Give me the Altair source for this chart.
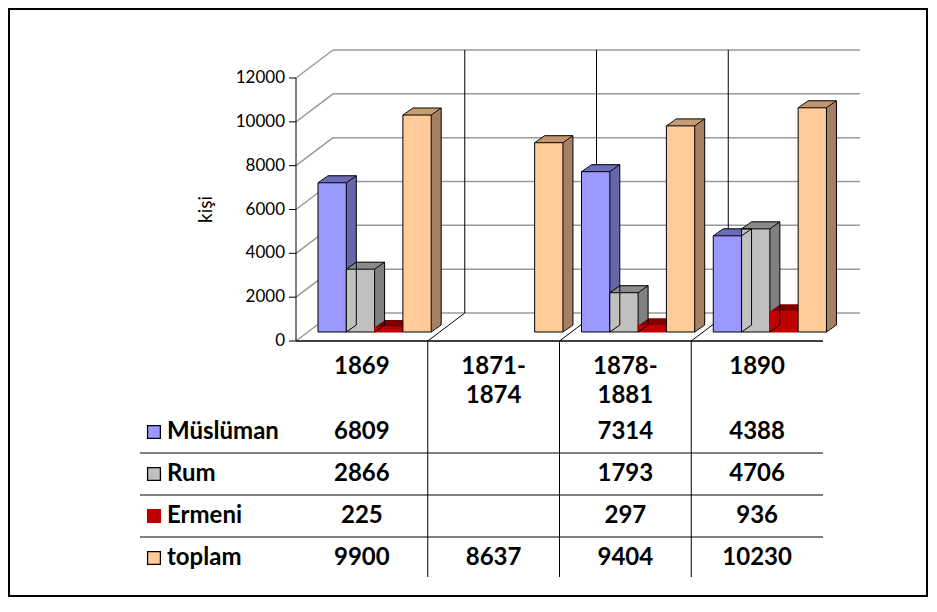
import altair as alt
import pandas as pd

# ---------------- data ----------------
categories = ["1869", "1871-1874", "1878-1881", "1890"]
series = ["Müslüman", "Rum", "Ermeni", "toplam"]
muslim = [6809, None, 7314, 4388]
rum = [2866, None, 1793, 4706]
ermeni = [225, None, 297, 936]
toplam = [9900, 8637, 9404, 10230]
y_ticks = [0, 2000, 4000, 6000, 8000, 10000, 12000]
y_title = "kişi"

# ---------------- styles ----------------
front_colors = ["#9999FF", "#C0C0C0", "#C00000", "#FFCC99"]
side_colors = ["#6666A8", "#808080", "#8A0000", "#A68064"]
top_colors = ["#6E6EBE", "#8E8E8E", "#7A0000", "#C79D72"]
outlined = [True, True, False, True]

FONT = "Lato"
W, H = 527, 263          # front plane of the plot
N = len(categories)
YMAX = y_ticks[-1]
DX, DY = 37, 28          # depth of the walls (px)
BX, BY = 10, 7           # depth of each bar (px)
LIFT = 9                 # bars stand a little back on the floor
GROUP0 = 0.167           # first bar start within a category
BARW = 0.2148            # bar width (in category units)
STEPS = 7

xscale = alt.Scale(domain=[0, N], nice=False, zero=False)
yscale = alt.Scale(domain=[0, YMAX], nice=False)

rows = []
for s_i, (s, vals) in enumerate(zip(series, [muslim, rum, ermeni, toplam])):
    for c_i, v in enumerate(vals):
        if v is None:
            continue
        x0 = c_i + GROUP0 + s_i * BARW
        rows.append(dict(series=s, cat=categories[c_i], value=v, zero=0,
                         x0=x0, x1=x0 + BARW, xc=c_i + 0.5,
                         front=front_colors[s_i], side=side_colors[s_i],
                         top=top_colors[s_i],
                         edge="#000000" if outlined[s_i] else front_colors[s_i],
                         outlined=outlined[s_i], label=f"{v}"))
bars = pd.DataFrame(rows)
bars_out = bars[bars["outlined"]].reset_index(drop=True)

ticks_df = pd.DataFrame({"v": y_ticks, "xa": 0, "xb": N, "lab": [str(t) for t in y_ticks]})
div_df = pd.DataFrame({"i": list(range(1, N)), "ya": 0, "yb": YMAX})
cat_df = pd.DataFrame({"xc": [i + 0.5 for i in range(N)],
                       "label": [c.replace("-", "-\n") for c in categories]})
floor_df = pd.DataFrame({"xa": [0], "xb": [N], "ya": [0], "yb": [YMAX]})
one = pd.DataFrame({"a": [0]})

X = lambda f: alt.X(f, scale=xscale, axis=None)
Y = lambda f: alt.Y(f, scale=yscale, axis=None)

layers = []

# outer frame
layers.append(
    alt.Chart(one).mark_rect(fillOpacity=0, stroke="#000000", strokeWidth=2).encode(
        x=alt.value(-287), x2=alt.value(W + 104),
        y=alt.value(-69), y2=alt.value(H + 255))
)

# back wall gridlines
layers.append(
    alt.Chart(ticks_df).mark_rule(color="#9A9A9A", strokeWidth=1.5,
                                  xOffset=DX, x2Offset=DX, yOffset=-DY, y2Offset=-DY).encode(
        x=X("xa:Q"), x2="xb:Q", y=Y("v:Q"), y2="v:Q")
)
# side wall diagonals
layers.append(
    alt.Chart(ticks_df).mark_rule(color="#9A9A9A", strokeWidth=1.5,
                                  x2Offset=DX, y2Offset=-DY).encode(
        x=X("xa:Q"), x2="xa:Q", y=Y("v:Q"), y2="v:Q")
)
# y axis: line, ticks, labels, title
layers += [
    alt.Chart(floor_df).mark_rule(color="#000000", strokeWidth=1).encode(
        x=X("xa:Q"), x2="xa:Q", y=Y("ya:Q"), y2="yb:Q"),
    alt.Chart(ticks_df).mark_rule(color="#000000", strokeWidth=1, xOffset=-7).encode(
        x=X("xa:Q"), x2="xa:Q", y=Y("v:Q"), y2="v:Q"),
    alt.Chart(ticks_df).mark_text(font=FONT, fontSize=17, color="#000000", align="right",
                                  baseline="middle", xOffset=-11).encode(
        x=X("xa:Q"), y=Y("v:Q"), text="lab:N"),
    alt.Chart(pd.DataFrame({"t": [y_title]})).mark_text(
        font=FONT, fontSize=19, color="#000000", angle=270, align="center",
        baseline="middle").encode(x=alt.value(-90), y=alt.value(H / 2), text="t:N"),
]
# category dividers: back wall, floor diagonal, table
layers.append(
    alt.Chart(div_df).mark_rule(color="#000000", strokeWidth=1,
                                xOffset=DX, x2Offset=DX, yOffset=-DY, y2Offset=-DY).encode(
        x=X("i:Q"), x2="i:Q", y=Y("ya:Q"), y2="yb:Q")
)
layers.append(
    alt.Chart(div_df).mark_rule(color="#000000", strokeWidth=1,
                                x2Offset=DX, y2Offset=-DY).encode(
        x=X("i:Q"), x2="i:Q", y=Y("ya:Q"), y2="ya:Q")
)
layers.append(
    alt.Chart(div_df).mark_rule(color="#000000", strokeWidth=1, y2Offset=236).encode(
        x=X("i:Q"), x2="i:Q", y=Y("ya:Q"), y2="ya:Q")
)
# front floor edge
layers.append(
    alt.Chart(floor_df).mark_rule(color="#000000", strokeWidth=1.5).encode(
        x=X("xa:Q"), x2="xb:Q", y=Y("ya:Q"), y2="ya:Q")
)

# ---------------- 3D bars ----------------
for k in range(STEPS, 0, -1):
    ox = BX * k / STEPS
    oy = -LIFT - BY * k / STEPS
    layers.append(
        alt.Chart(bars).mark_rect(xOffset=ox, x2Offset=ox, yOffset=oy, y2Offset=oy).encode(
            x=X("x0:Q"), x2="x1:Q", y=Y("value:Q"), y2="zero:Q",
            fill=alt.Fill("side:N", scale=None))
    )
    layers.append(
        alt.Chart(bars).mark_rect(xOffset=ox, x2Offset=ox, yOffset=oy, y2Offset=oy + 1.3).encode(
            x=X("x0:Q"), x2="x1:Q", y=Y("value:Q"), y2="value:Q",
            fill=alt.Fill("top:N", scale=None))
    )
# front faces
layers.append(
    alt.Chart(bars).mark_rect(yOffset=-LIFT, y2Offset=-LIFT, strokeWidth=1).encode(
        x=X("x0:Q"), x2="x1:Q", y=Y("value:Q"), y2="zero:Q",
        fill=alt.Fill("front:N", scale=None), stroke=alt.Stroke("edge:N", scale=None))
)
# box edges
layers += [
    alt.Chart(bars_out).mark_rule(color="#000000", strokeWidth=1,
                                  x2Offset=BX, yOffset=-LIFT, y2Offset=-LIFT - BY).encode(
        x=X("x0:Q"), x2="x0:Q", y=Y("value:Q"), y2="value:Q"),
    alt.Chart(bars_out).mark_rule(color="#000000", strokeWidth=1,
                                  x2Offset=BX, yOffset=-LIFT, y2Offset=-LIFT - BY).encode(
        x=X("x1:Q"), x2="x1:Q", y=Y("value:Q"), y2="value:Q"),
    alt.Chart(bars_out).mark_rule(color="#000000", strokeWidth=1,
                                  x2Offset=BX, yOffset=-LIFT, y2Offset=-LIFT - BY).encode(
        x=X("x1:Q"), x2="x1:Q", y=Y("zero:Q"), y2="zero:Q"),
    alt.Chart(bars_out).mark_rule(color="#000000", strokeWidth=1, xOffset=BX, x2Offset=BX,
                                  yOffset=-LIFT - BY, y2Offset=-LIFT - BY).encode(
        x=X("x0:Q"), x2="x1:Q", y=Y("value:Q"), y2="value:Q"),
    alt.Chart(bars_out).mark_rule(color="#000000", strokeWidth=1, xOffset=BX, x2Offset=BX,
                                  yOffset=-LIFT - BY, y2Offset=-LIFT - BY).encode(
        x=X("x1:Q"), x2="x1:Q", y=Y("value:Q"), y2="zero:Q"),
]

# ---------------- data table ----------------
TXT = dict(font=FONT, fontSize=24, fontWeight="bold", color="#000000")
ROW0, ROWSTEP = 354, 42
layers.append(
    alt.Chart(cat_df).mark_text(**TXT, align="center", baseline="alphabetic",
                                lineBreak="\n", lineHeight=29).encode(
        x=X("xc:Q"), y=alt.value(296), text="label:N")
)
for r, s in enumerate(series):
    yy = ROW0 + ROWSTEP * r
    sub = bars[bars["series"] == s].reset_index(drop=True)
    layers.append(
        alt.Chart(sub).mark_text(**TXT, align="center", baseline="middle").encode(
            x=X("xc:Q"), y=alt.value(yy), text="label:N")
    )
    lab = pd.DataFrame({"s": [s]})
    layers.append(
        alt.Chart(lab).mark_text(**TXT, align="left", baseline="middle").encode(
            x=alt.value(-129), y=alt.value(yy), text="s:N")
    )
    layers.append(
        alt.Chart(lab).mark_square(
            size=165, filled=True, opacity=1, color=front_colors[r],
            stroke="#000000" if outlined[r] else front_colors[r], strokeWidth=1.3).encode(
            x=alt.value(-142), y=alt.value(yy))
    )
    if r < len(series) - 1:
        layers.append(
            alt.Chart(one).mark_rule(color="#000000", strokeWidth=1).encode(
                x=alt.value(-156), x2=alt.value(W), y=alt.value(yy + ROWSTEP / 2))
        )

chart = alt.layer(*layers).properties(
    width=W, height=H,
    padding={"left": 288, "top": 70, "right": 105, "bottom": 257},
    autosize=alt.AutoSizeParams(type="none"),
    background="#FFFFFF",
).configure_view(stroke=None)

chart.save("out.html", embed_options={"renderer": "svg", "actions": False})
